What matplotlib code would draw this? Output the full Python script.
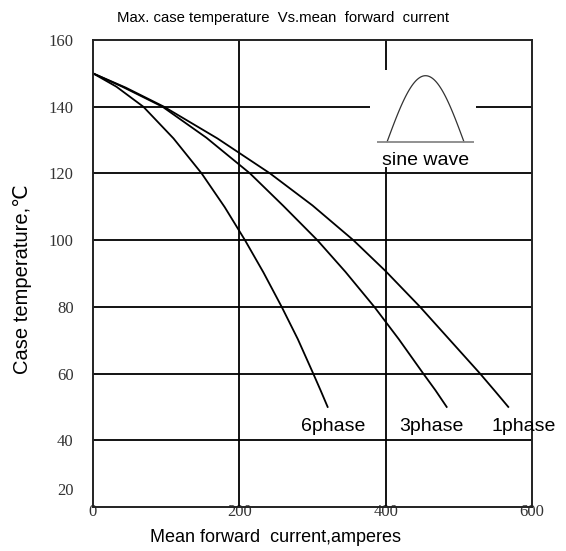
import numpy as np
import matplotlib.pyplot as plt
from matplotlib.transforms import ScaledTranslation

# curves (current in A, case temperature in C)
x_6phase = [0, 32, 68.8, 110, 148.5, 180, 207.7, 233, 257.9, 280, 301, 311, 320.7]
y_6phase = [150, 146, 140, 130.5, 120, 109.9, 100, 90.3, 80, 70.3, 60, 55, 50]

x_3phase = [0, 40, 95, 155, 214.6, 260, 306.6, 345, 384.5, 418, 451.4, 468, 483.4]
y_3phase = [150, 146, 140, 130.7, 120, 110.3, 100, 90.5, 80, 70.3, 60, 55, 50]

x_1phase = [0, 45, 97, 170, 242, 300, 355.8, 400, 447, 488, 529, 550, 567.6]
y_1phase = [150, 145.7, 140, 130.5, 120, 110.4, 100, 90.7, 80, 70, 60, 54.6, 50]

curve_labels = ["6phase", "3phase", "1phase"]
label_x = [328, 462, 588]

x_ticks = [0, 200, 400, 600]
y_ticks = [20, 40, 60, 80, 100, 120, 140, 160]

sans = ["Liberation Sans", "DejaVu Sans"]

fig = plt.figure(figsize=(5.66, 5.51), dpi=100)
ax = fig.add_axes([0.1643, 0.0799, 0.7756, 0.8475])
ax.set_xlim(0, 600)
ax.set_ylim(20, 160)

# grid, with gaps where the sine wave sketch sits
for yv in [40, 60, 80, 100, 120]:
    ax.axhline(yv, color="black", lw=1.3)
ax.hlines(140, 0, 379, color="black", lw=1.3)
ax.hlines(140, 523, 600, color="black", lw=1.3)
ax.axvline(200, color="black", lw=1.3)
ax.vlines(400, 20, 122, color="black", lw=1.3)
ax.vlines(400, 151, 160, color="black", lw=1.3)

ax.plot(x_6phase, y_6phase, color="black", lw=1.3)
ax.plot(x_3phase, y_3phase, color="black", lw=1.3)
ax.plot(x_1phase, y_1phase, color="black", lw=1.3)

for name, lx in zip(curve_labels, label_x):
    ax.text(lx, 44, name, ha="center", va="center", fontsize=14,
            family=sans, clip_on=False)

# sine wave sketch
t = np.linspace(0, np.pi, 60)
ax.plot(402 + (507 - 402) * t / np.pi, 129.5 + 19.8 * np.sin(t), color="#333333", lw=0.9)
ax.hlines(129.5, 388, 521, color="#888888", lw=1.3)
ax.text(454, 124, "sine wave", ha="center", va="center", fontsize=14, family=sans)

for s in ax.spines.values():
    s.set_linewidth(1.4)
    s.set_color("#222222")

ax.set_xticks(x_ticks)
ax.set_yticks(y_ticks)
ax.set_xticklabels([str(v) for v in x_ticks], family="Liberation Serif", fontsize=12, color="#333333")
ax.set_yticklabels([str(v) for v in y_ticks], family="Liberation Serif", fontsize=12, color="#333333")
ax.tick_params(axis="x", length=0, pad=-2)
ax.tick_params(axis="y", length=0, pad=14)
# the "20" label sits above the bottom edge in the original
lab20 = ax.get_yticklabels()[0]
lab20.set_transform(lab20.get_transform() + ScaledTranslation(0, 13 / 72, fig.dpi_scale_trans))

fig.text(0.5, 0.967, "Max. case temperature  Vs.mean  forward  current",
         ha="center", va="center", fontsize=10.7, family=sans)
fig.text(0.486, 0.0236, "Mean forward  current,amperes", ha="center", va="center",
         fontsize=13, family=sans)
fig.text(0.04, 0.494, "Case temperature,\u2103", ha="center", va="center", rotation=90,
         fontsize=14.5, family=sans)

fig.savefig("out.png", dpi=100)
